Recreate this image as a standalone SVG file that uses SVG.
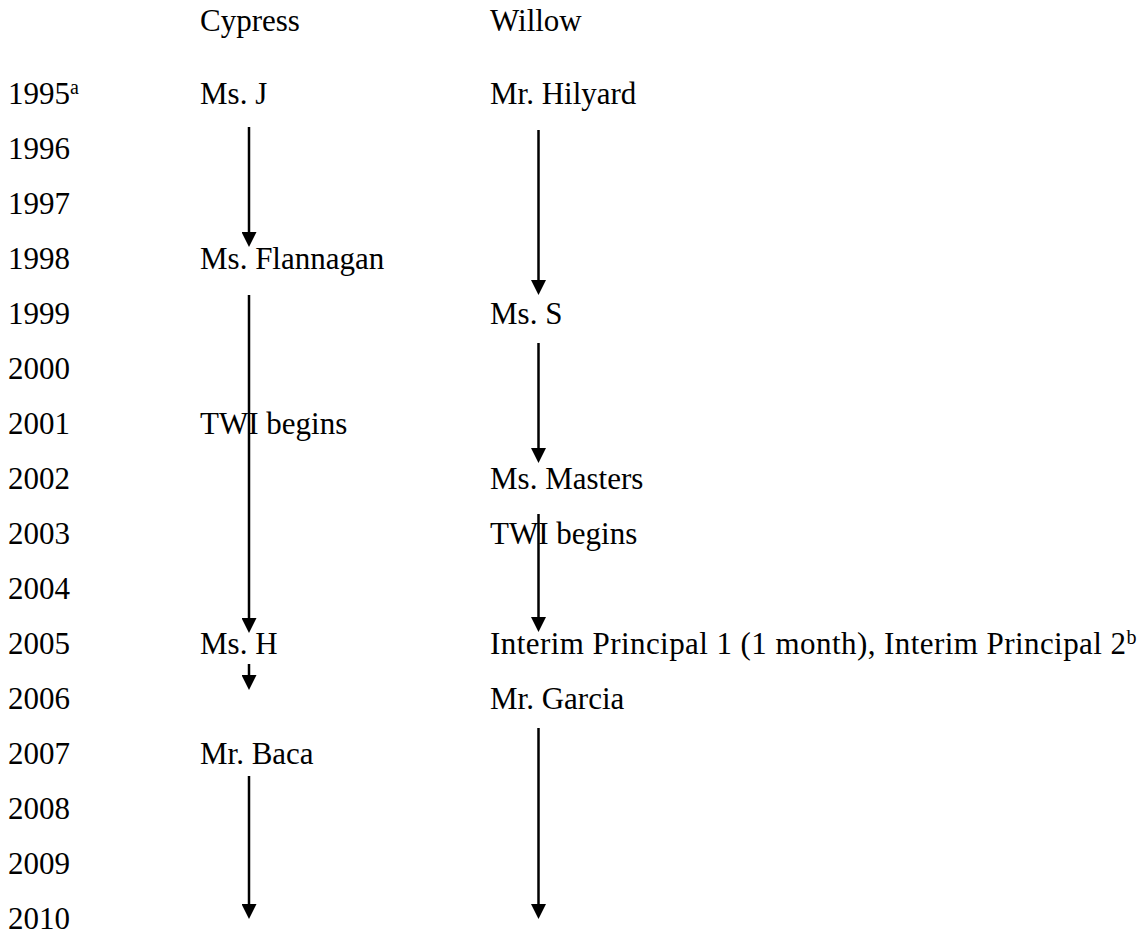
<svg xmlns="http://www.w3.org/2000/svg" width="1143" height="936" viewBox="0 0 1143 936">
  <style>
    text { font-family: "Liberation Serif", "Times New Roman", serif; font-size: 31px; fill: #000; }
    .sup { font-size: 20px; }
    .conn line { stroke: #000; stroke-width: 2.5; fill: none; marker-end: url(#head); }
  </style>
  <defs>
    <marker id="head" markerUnits="userSpaceOnUse" markerWidth="15" markerHeight="15" viewBox="0 0 15 15" refX="5" refY="7.5" orient="auto">
      <path d="M0,0 L15,7.5 L0,15 z" fill="#000"/>
    </marker>
  </defs>
  <rect width="1143" height="936" fill="#fff"/>

  <!-- column headers -->
  <g id="header-cypress"><text x="200" y="31">Cypress</text></g>
  <g id="header-willow"><text x="490" y="31">Willow</text></g>

  <!-- year axis -->
  <g id="years">
    <text x="8" y="104">1995<tspan class="sup" dy="-10">a</tspan></text>
    <text x="8" y="159">1996</text>
    <text x="8" y="214">1997</text>
    <text x="8" y="269">1998</text>
    <text x="8" y="324">1999</text>
    <text x="8" y="379">2000</text>
    <text x="8" y="434">2001</text>
    <text x="8" y="489">2002</text>
    <text x="8" y="544">2003</text>
    <text x="8" y="599">2004</text>
    <text x="8" y="654">2005</text>
    <text x="8" y="709">2006</text>
    <text x="8" y="764">2007</text>
    <text x="8" y="819">2008</text>
    <text x="8" y="874">2009</text>
    <text x="8" y="929">2010</text>
  </g>

  <!-- Cypress principals -->
  <g id="c-ms-j"><text x="200" y="104">Ms. J</text></g>
  <g id="c-ms-flannagan"><text x="200" y="269">Ms. Flannagan</text></g>
  <g id="c-twi"><text x="200" y="434">TWI begins</text></g>
  <g id="c-ms-h"><text x="200" y="654">Ms. H</text></g>
  <g id="c-mr-baca"><text x="200" y="764">Mr. Baca</text></g>

  <!-- Willow principals -->
  <g id="w-mr-hilyard"><text x="490" y="104">Mr. Hilyard</text></g>
  <g id="w-ms-s"><text x="490" y="324">Ms. S</text></g>
  <g id="w-ms-masters"><text x="490" y="489">Ms. Masters</text></g>
  <g id="w-twi"><text x="490" y="544">TWI begins</text></g>
  <g id="w-interim"><text x="490" y="654"><tspan textLength="636">Interim Principal 1 (1 month), Interim Principal 2</tspan><tspan class="sup" dy="-10">b</tspan></text></g>
  <g id="w-mr-garcia"><text x="490" y="709">Mr. Garcia</text></g>

  <!-- tenure arrows (line end + 10 = arrow tip) -->
  <g id="connectors" class="conn">
    <line x1="249" y1="127" x2="249" y2="237"/>
    <line x1="249" y1="295" x2="249" y2="623"/>
    <line x1="249" y1="664" x2="249" y2="680"/>
    <line x1="249" y1="776" x2="249" y2="909"/>
    <line x1="538.5" y1="130" x2="538.5" y2="285"/>
    <line x1="538.5" y1="343" x2="538.5" y2="453"/>
    <line x1="538.5" y1="514" x2="538.5" y2="622"/>
    <line x1="538.5" y1="728" x2="538.5" y2="909"/>
  </g>
</svg>
